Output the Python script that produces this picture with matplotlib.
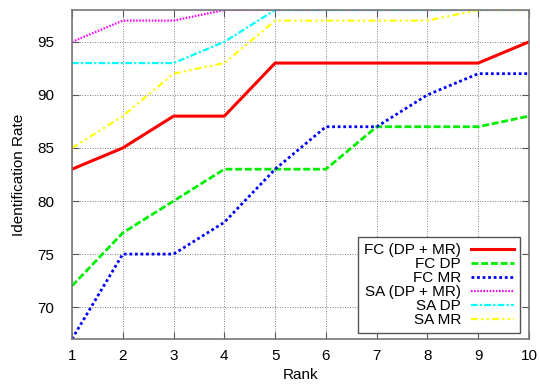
import matplotlib
matplotlib.use("Agg")
from matplotlib import pyplot as plt

plt.rcParams['font.family'] = ['Liberation Sans', 'DejaVu Sans']
plt.rcParams['font.size'] = 11

rank = [1, 2, 3, 4, 5, 6, 7, 8, 9, 10]
fc_dp_mr = [83, 85, 88, 88, 93, 93, 93, 93, 93, 95]
fc_dp = [72, 77, 80, 83, 83, 83, 87, 87, 87, 88]
fc_mr = [67, 75, 75, 78, 83, 87, 87, 90, 92, 92]
sa_dp_mr = [95, 97, 97, 98, 98, 98, 98, 98, 98, 98]
sa_dp = [93, 93, 93, 95, 98, 98, 98, 98, 98, 98]
sa_mr = [85, 88, 92, 93, 97, 97, 97, 97, 98, 98]

fig = plt.figure(figsize=(5.4, 3.86), dpi=100)
ax = fig.add_axes([72 / 540, 1 - 339 / 386, (529 - 72) / 540, (339 - 10) / 386])

# series drawn in gnuplot-ish styles
ax.plot(rank, fc_dp_mr, color='#ff0000', lw=2.2, ls='-', label='FC (DP + MR)')
ax.plot(rank, fc_dp, color='#00ee00', lw=2.0, ls=(0, (2.5, 1)), label='FC DP')
ax.plot(rank, fc_mr, color='#0000ff', lw=2.0, ls=(0, (1, 1)), label='FC MR')
ax.plot(rank, sa_dp_mr, color='#ff00ff', lw=1.6, ls=(0, (0.7, 0.7)), label='SA (DP + MR)')
ax.plot(rank, sa_dp, color='#00ffff', lw=1.6, ls=(0, (3, 1, 1, 1)), label='SA DP')
ax.plot(rank, sa_mr, color='#ffff00', lw=1.6, ls=(0, (3, 1.5, 1, 1.5, 1, 1.5)), label='SA MR')

ax.set_xlim(1, 10)
ax.set_ylim(67, 98)
ax.set_xticks(rank)
ax.set_yticks([70, 75, 80, 85, 90, 95])
ax.grid(True, color='#555555', ls=(0, (1, 2)), lw=0.6)
ax.tick_params(direction='in', top=True, right=True, length=5, color='#555555')
ax.tick_params(axis='y', pad=13)
ax.tick_params(axis='x', pad=7)
for s in ax.spines.values():
    s.set_color('#777777')
    s.set_linewidth(1.2)

ax.set_xlabel('Rank', labelpad=4)
ax.set_ylabel('Identification Rate', labelpad=8)

leg = ax.legend(loc='lower right', bbox_to_anchor=(0.980, 0.018), borderaxespad=0,
                markerfirst=False, fancybox=False, framealpha=1,
                edgecolor='#555555', handlelength=2.8, labelspacing=0.0,
                handletextpad=0.65, borderpad=0.4, fontsize=11)
leg.get_frame().set_linewidth(1.0)

plt.savefig('out.png', dpi=100)
